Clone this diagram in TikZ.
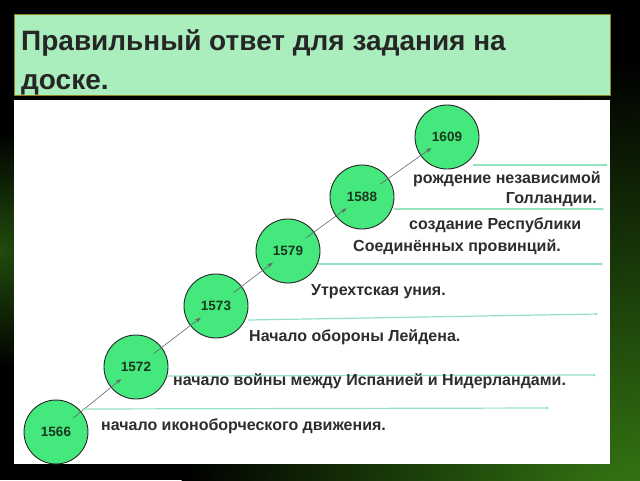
\documentclass[tikz,border=0pt]{standalone}
\usepackage{fontspec}
\setmainfont{Liberation Sans}
\usetikzlibrary{arrows.meta}
\definecolor{titlefill}{RGB}{170,238,190}
\definecolor{titleline}{RGB}{140,130,30}
\definecolor{circfill}{RGB}{68,232,124}
\definecolor{circtext}{RGB}{25,55,30}
\definecolor{labeltext}{RGB}{45,45,45}
\definecolor{guide}{RGB}{150,225,190}
\definecolor{bggreen}{RGB}{55,125,20}
\tikzset{
  year/.style={circle, draw=black!85, line width=0.9pt, fill=circfill, minimum size=64pt, inner sep=0pt,
    font=\bfseries\fontsize{13.5}{13.5}\selectfont, text=circtext},
  event/.style={font=\bfseries\fontsize{16}{18}\selectfont, text=labeltext, inner sep=0pt},
  guideline/.style={draw=guide, line width=1.2pt, -{Stealth[length=3pt,width=3pt]}},
  link/.style={draw=black!60, line width=0.6pt, -{Stealth[length=6pt,width=4pt]}, shorten <=22pt, shorten >=19pt},
}
\begin{document}
\begin{tikzpicture}[x=1pt,y=-1pt]
\useasboundingbox (0,0) rectangle (640,480);
% background
\begin{scope}
\clip (0,0) rectangle (640,480);
\fill[black] (0,0) rectangle (640,480);
\shade[inner color=bggreen, outer color=black] (640,520) circle (460);
\shade[inner color=bggreen!60!black, outer color=black] (0,250) circle (120);
\end{scope}
% title box
\node[draw=titleline, line width=1pt, fill=titlefill, minimum width=596pt, minimum height=81pt, anchor=north west, inner sep=0pt] (title) at (14,14) {};
\node[anchor=north west, align=left, font=\bfseries\fontsize{28}{39}\selectfont, text=black!85, inner sep=0pt] (titletext) at (21,29) {Правильный ответ для задания на\\доске.};
% white panel
\node[fill=white, minimum width=596pt, minimum height=364pt, anchor=north west, inner sep=0pt] (panel) at (14,100) {};
% years
\node[year] (y1566) at (56,432) {1566};
\node[year] (y1572) at (136,367) {1572};
\node[year] (y1573) at (216,306) {1573};
\node[year] (y1579) at (288,251) {1579};
\node[year] (y1588) at (362,197) {1588};
\node[year] (y1609) at (447,137) {1609};
% links
\draw[link] (y1566.center) -- (y1572.center);
\draw[link] (y1572.center) -- (y1573.center);
\draw[link] (y1573.center) -- (y1579.center);
\draw[link] (y1579.center) -- (y1588.center);
\draw[link] (y1588.center) -- (y1609.center);
% guide lines
\coordinate (g1a) at (473,165); \coordinate (g1b) at (608,165);
\coordinate (g2a) at (394,209); \coordinate (g2b) at (604,209);
\coordinate (g3a) at (318,264); \coordinate (g3b) at (603,264);
\coordinate (g4a) at (248,320); \coordinate (g4b) at (598,314);
\coordinate (g5a) at (167,376); \coordinate (g5b) at (596,375);
\coordinate (g6a) at (82,409); \coordinate (g6b) at (549,408);
\draw[guideline] (g1a) -- (g1b);
\draw[guideline] (g2a) -- (g2b);
\draw[guideline] (g3a) -- (g3b);
\draw[guideline] (g4a) -- (g4b);
\draw[guideline] (g5a) -- (g5b);
\draw[guideline] (g6a) -- (g6b);
% labels
\node[event, anchor=west] (e1) at (413,179) {рождение независимой};
\node[event, anchor=east] (e2) at (597,200) {Голландии.};
\node[event, anchor=west] (e3) at (409,225) {создание Республики};
\node[event, anchor=west] (e4) at (353,247) {Соединённых провинций.};
\node[event, anchor=west] (e5) at (311,292) {Утрехтская уния.};
\node[event, anchor=west] (e6) at (249,337) {Начало обороны Лейдена.};
\node[event, anchor=west] (e7) at (173,381) {начало войны между Испанией и Нидерландами.};
\node[event, anchor=west] (e8) at (101,426) {начало иконоборческого движения.};
\end{tikzpicture}
\end{document}
